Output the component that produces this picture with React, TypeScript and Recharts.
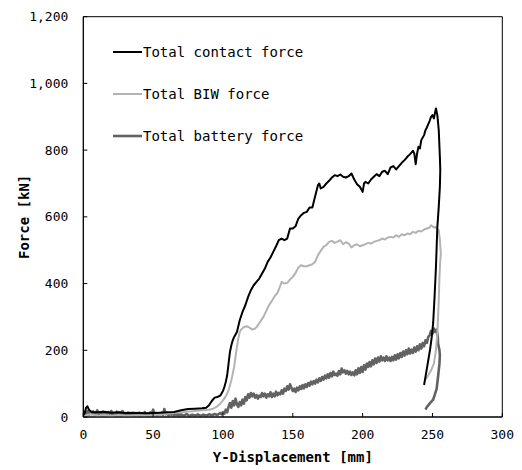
import React from "react";
import {
  LineChart,
  Line,
  XAxis,
  YAxis,
  ReferenceArea,
  Legend,
} from "recharts";

// [displacement mm, force kN]
const contactForce: [number, number][] = [
  [0, 5], [1, 12], [2, 28], [3, 32], [4, 22], [6, 15], [10, 14], [15, 16], [20, 13], [25, 14],
  [30, 12], [35, 13], [40, 12], [45, 11], [50, 12], [55, 13], [60, 14], [65, 15], [70, 20], [75, 24],
  [80, 25], [85, 26], [88, 28], [90, 35], [92, 48], [94, 58], [96, 60], [98, 64], [100, 78], [101, 90],
  [102, 105], [103, 125], [104, 160], [105, 195], [106, 215], [107, 230], [108, 240], [110, 255], [112, 290], [114, 315],
  [116, 335], [118, 360], [120, 380], [122, 395], [124, 405], [126, 415], [128, 430], [130, 445], [132, 465], [134, 478],
  [136, 495], [138, 512], [140, 530], [142, 535], [144, 530], [146, 535], [148, 565], [150, 565], [152, 572], [154, 595],
  [156, 605], [158, 612], [160, 615], [162, 628], [164, 628], [166, 662], [168, 695], [169, 700], [170, 685], [172, 690],
  [174, 700], [176, 708], [178, 718], [180, 725], [182, 722], [184, 727], [186, 720], [188, 718], [190, 722], [192, 730],
  [194, 712], [196, 698], [198, 690], [200, 675], [201, 700], [202, 705], [204, 700], [206, 712], [208, 720], [210, 728],
  [212, 722], [214, 735], [216, 738], [218, 728], [220, 748], [222, 752], [224, 742], [226, 752], [228, 762], [230, 770],
  [232, 780], [234, 788], [236, 798], [237, 790], [238, 758], [239, 790], [240, 810], [241, 805], [242, 830], [244, 845],
  [245, 860], [246, 868], [248, 888], [249, 900], [250, 905], [251, 895], [252, 915], [252.5, 925], [253.5, 905], [254.5, 860],
  [255.3, 780], [255.6, 740], [255.3, 690], [254.5, 630], [253.5, 570], [252.5, 450], [251.5, 360], [250.5, 282], [249.5, 240], [248.2, 200],
  [246, 145], [244, 96],
];

const biwForce: [number, number][] = [
  [0, 3], [5, 8], [10, 4], [15, 6], [20, 3], [25, 6], [30, 4], [40, 5], [50, 6], [60, 10],
  [70, 14], [80, 18], [85, 20], [90, 22], [93, 25], [96, 32], [98, 40], [100, 50], [102, 62], [104, 80],
  [105, 95], [106, 110], [107, 130], [108, 150], [109, 180], [110, 210], [111, 235], [112, 255], [113, 262], [115, 270],
  [117, 272], [119, 268], [121, 262], [123, 265], [125, 275], [127, 288], [129, 300], [131, 318], [133, 335], [135, 348],
  [137, 362], [139, 372], [141, 392], [142, 405], [144, 400], [146, 402], [148, 412], [150, 420], [152, 432], [154, 448],
  [156, 455], [158, 452], [160, 452], [162, 455], [164, 458], [166, 465], [168, 485], [170, 498], [172, 510], [174, 515],
  [176, 525], [178, 528], [180, 522], [182, 526], [184, 530], [186, 518], [188, 524], [190, 520], [192, 508], [194, 515],
  [196, 518], [198, 512], [200, 515], [202, 518], [204, 522], [206, 520], [208, 525], [210, 528], [212, 530], [214, 535],
  [216, 532], [218, 538], [220, 540], [222, 538], [224, 545], [226, 540], [228, 548], [230, 545], [232, 550], [234, 548],
  [236, 555], [238, 552], [240, 558], [242, 556], [244, 562], [246, 565], [248, 568], [249, 575], [250, 572], [251, 568],
  [252, 570], [253, 565], [254.5, 560], [255.3, 530], [256, 490], [255.6, 470], [255, 420], [254.5, 350], [254, 300], [253.5, 250],
  [252.5, 200], [251, 160], [249, 140], [247, 125], [244.6, 110],
];

const batteryForce: [number, number][] = [
  [0, 2], [1, 15], [2, 8], [3, 18], [4, 6], [5, 14], [6, 9], [7, 17], [8, 5], [9, 12],
  [10, 20], [11, 7], [12, 14], [13, 9], [14, 16], [15, 6], [16, 13], [17, 8], [18, 15], [19, 10],
  [20, 18], [21, 7], [22, 12], [23, 5], [24, 16], [25, 9], [26, 14], [27, 6], [28, 18], [29, 10],
  [30, 12], [31, 5], [32, 13], [33, 8], [34, 11], [35, 6], [36, 12], [37, 4], [38, 10], [39, 7],
  [40, 13], [41, 5], [42, 12], [43, 8], [44, 15], [45, 6], [46, 11], [47, 4], [48, 14], [49, 9],
  [50, 22], [51, 7], [52, 12], [53, 5], [54, 10], [55, 8], [56, 13], [57, 6], [58, 24], [59, 8],
  [60, 12], [61, 5], [62, 10], [63, 7], [64, 12], [65, 4], [66, 9], [67, 6], [68, 10], [69, 3],
  [70, 8], [72, 4], [74, 9], [76, 3], [78, 7], [80, 4], [82, 8], [84, 3], [86, 7], [88, 4],
  [90, 8], [92, 5], [94, 9], [96, 6], [98, 12], [99, 8], [100, 15], [101, 10], [102, 22], [103, 14],
  [104, 30], [105, 42], [106, 28], [107, 48], [108, 35], [109, 55], [110, 38], [111, 30], [112, 45], [113, 35],
  [114, 52], [115, 40], [116, 60], [117, 50], [118, 68], [119, 58], [120, 72], [121, 62], [122, 70], [123, 58],
  [124, 66], [125, 55], [126, 64], [127, 60], [128, 72], [129, 62], [130, 70], [131, 58], [132, 68], [133, 62],
  [134, 74], [135, 60], [136, 70], [137, 62], [138, 76], [139, 65], [140, 72], [141, 68], [142, 80], [143, 70],
  [144, 85], [145, 78], [146, 92], [147, 82], [148, 98], [149, 88], [150, 78], [151, 85], [152, 75], [153, 88],
  [154, 80], [155, 92], [156, 84], [157, 96], [158, 86], [159, 98], [160, 90], [161, 102], [162, 94], [163, 106],
  [164, 98], [165, 108], [166, 100], [167, 112], [168, 104], [169, 116], [170, 108], [171, 120], [172, 112], [173, 124],
  [174, 116], [175, 128], [176, 118], [177, 132], [178, 122], [179, 136], [180, 126], [181, 130], [182, 124], [183, 138],
  [184, 128], [185, 145], [186, 134], [187, 140], [188, 130], [189, 138], [190, 128], [191, 136], [192, 126], [193, 134],
  [194, 125], [195, 140], [196, 128], [197, 146], [198, 132], [199, 150], [200, 135], [201, 155], [202, 142], [203, 160],
  [204, 150], [205, 165], [206, 152], [207, 170], [208, 158], [209, 175], [210, 162], [211, 178], [212, 166], [213, 182],
  [214, 170], [215, 178], [216, 168], [217, 182], [218, 170], [219, 178], [220, 168], [221, 180], [222, 170], [223, 185],
  [224, 172], [225, 188], [226, 176], [227, 192], [228, 180], [229, 196], [230, 184], [231, 200], [232, 188], [233, 205],
  [234, 190], [235, 202], [236, 192], [237, 208], [238, 196], [239, 212], [240, 200], [241, 218], [242, 205], [243, 222],
  [244, 212], [245, 230], [246, 222], [247, 240], [248, 245], [249, 258], [250, 250], [251, 265], [252, 255], [253, 262],
  [253.8, 240], [254, 220], [255, 200], [255.3, 185], [255, 160], [254, 120], [253, 85], [251.5, 65], [250.5, 52], [249, 45],
  [247.5, 38], [246, 30], [245, 22],
];

const xTicks = [0, 50, 100, 150, 200, 250, 300];
const yTicks = [0, 200, 400, 600, 800, 1000, 1200];

const seriesNames = ["Total contact force", "Total BIW force", "Total battery force"];
const seriesColors = ["#000000", "#b3b3b3", "#626262"];
const seriesWidths = [2, 2, 2.6];

const toPoints = (arr: [number, number][]) => arr.map(([x, y]) => ({ x, y }));

const FONT = "'DejaVu Sans Mono', 'Liberation Mono', monospace";

const formatY = (v: number) => v.toLocaleString("en-US");

const LegendContent = () => (
  <div style={{ fontFamily: FONT, fontSize: 14, color: "#000" }}>
    {seriesNames.map((name, i) => (
      <div key={name} style={{ height: 42, display: "flex", alignItems: "center", whiteSpace: "nowrap" }}>
        <svg width={30} height={4} style={{ display: "block" }}>
          <line x1={0} y1={2} x2={29} y2={2} stroke={seriesColors[i]} strokeWidth={seriesWidths[i]} />
        </svg>
        <span>{name}</span>
      </div>
    ))}
  </div>
);

export default function App() {
  const datasets = [contactForce, biwForce, batteryForce].map(toPoints);
  return (
    <div style={{ width: 514, height: 462 }}>
      <LineChart
        width={514}
        height={462}
        margin={{ top: 8.7, right: 19.7, bottom: 13, left: 15.3 }}
      >
        <XAxis
          type="number"
          dataKey="x"
          domain={[0, 300]}
          ticks={xTicks}
          allowDataOverflow
          height={40}
          tickSize={-4}
          tickMargin={17}
          tick={{ fontFamily: FONT, fontSize: 13, fill: "#000" }}
          axisLine={{ stroke: "#000" }}
          tickLine={{ stroke: "#000" }}
          label={{
            content: (props: any) => {
              const vb = props.viewBox || {};
              return (
                <text
                  x={vb.x + vb.width / 2}
                  y={vb.y + vb.height}
                  textAnchor="middle"
                  dominantBaseline="central"
                  fontFamily={FONT}
                  fontWeight="bold"
                  fontSize={14}
                  fill="#000"
                >
                  Y-Displacement [mm]
                </text>
              );
            },
          }}
        />
        <YAxis
          type="number"
          dataKey="y"
          domain={[0, 1200]}
          ticks={yTicks}
          allowDataOverflow
          width={60}
          tickSize={-4}
          tickMargin={19}
          tickFormatter={formatY}
          tick={{ fontFamily: FONT, fontSize: 13, fill: "#000" }}
          axisLine={{ stroke: "#000" }}
          tickLine={{ stroke: "#000" }}
          label={{
            content: (props: any) => {
              const vb = props.viewBox || {};
              const cx = vb.x + 1.2;
              const cy = vb.y + vb.height / 2;
              return (
                <text
                  x={cx}
                  y={cy}
                  transform={`rotate(-90 ${cx} ${cy})`}
                  textAnchor="middle"
                  dominantBaseline="central"
                  fontFamily={FONT}
                  fontWeight="bold"
                  fontSize={14}
                  fill="#000"
                >
                  Force [kN]
                </text>
              );
            },
          }}
        />
        <ReferenceArea
          x1={0}
          x2={300}
          y1={0}
          y2={1200}
          fill="none"
          fillOpacity={0}
          stroke="#000"
          strokeWidth={1}
          ifOverflow="visible"
        />
        {[2, 1, 0].map((i) => (
          <Line
            key={seriesNames[i]}
            data={datasets[i]}
            dataKey="y"
            name={seriesNames[i]}
            type="linear"
            stroke={seriesColors[i]}
            strokeWidth={seriesWidths[i]}
            dot={false}
            activeDot={false}
            isAnimationActive={false}
            strokeLinejoin="round"
          />
        ))}
        <Legend
          layout="vertical"
          align="center"
          verticalAlign="middle"
          content={<LegendContent />}
          wrapperStyle={{ left: 105, top: 23.3, width: 260 }}
        />
      </LineChart>
    </div>
  );
}
